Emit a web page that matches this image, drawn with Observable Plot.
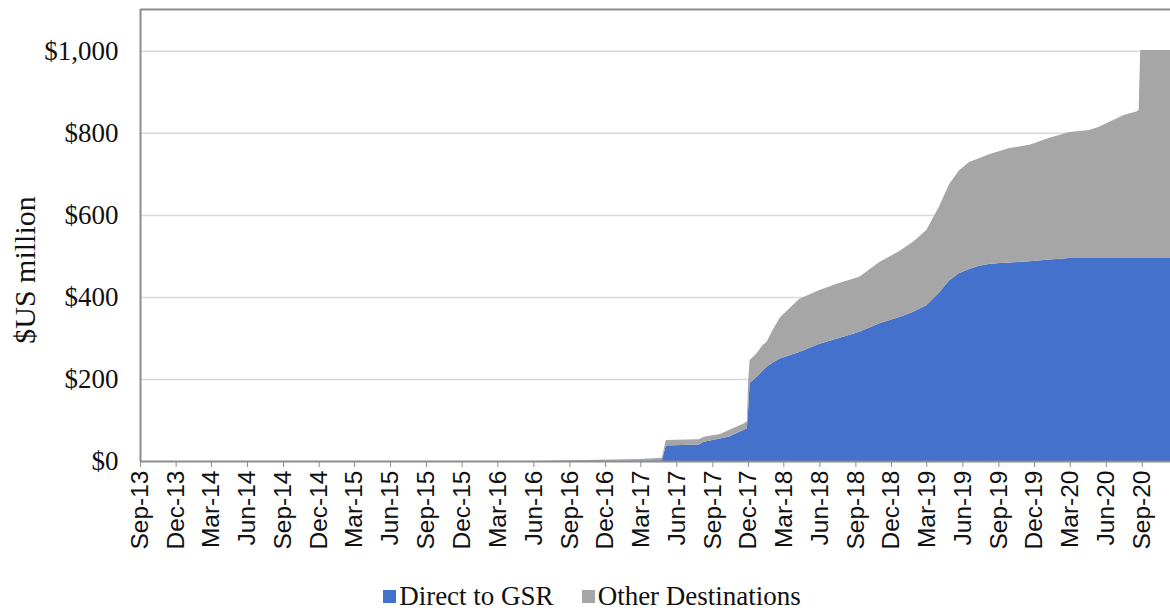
<!DOCTYPE html>
<html>
<head>
<meta charset="utf-8">
<script src="https://cdn.jsdelivr.net/npm/d3@7"></script>
<script src="https://cdn.jsdelivr.net/npm/@observablehq/plot@0.6"></script>
<style>
  html, body { margin: 0; padding: 0; background: #fff; }
  #chart { width: 1170px; height: 610px; position: relative; overflow: hidden; }
  #legend { position: absolute; left: 0; top: 581px; width: 1184px; display: flex; justify-content: center;
            font-family: "Liberation Serif", "Times New Roman", serif; font-size: 27px; color: #111; }
  .item { display: flex; align-items: center; margin: 0 14px; }
  .sw { width: 13px; height: 13px; margin-right: 3px; display: inline-block; }
</style>
</head>
<body>
<div id="chart"><div id="legend"></div></div>
<script>
// Dates of observations (cumulative $US million)
const dates = [
  "2013-09-01","2016-06-01","2016-08-01","2016-11-15","2017-02-28","2017-04-25","2017-05-05",
  "2017-07-28","2017-08-10","2017-09-20","2017-10-14","2017-11-17","2017-11-28","2017-12-01",
  "2017-12-05","2017-12-22","2018-01-07","2018-01-17","2018-02-02","2018-02-20","2018-04-10",
  "2018-06-01","2018-07-21","2018-09-11","2018-11-01","2018-12-22","2019-01-25","2019-03-01",
  "2019-04-02","2019-04-28","2019-05-23","2019-06-18","2019-07-13","2019-08-08","2019-09-04",
  "2019-09-29","2019-11-19","2020-01-09","2020-02-29","2020-04-20","2020-05-15","2020-06-10",
  "2020-07-18","2020-08-18","2020-08-24","2020-08-28","2020-11-12"
];
// Direct to GSR (cumulative)
const directGSR = [
  0,0,0,0,1,2,38,
  40,47,55,60,75,80,120,
  190,205,220,230,240,250,266,
  286,300,315,336,351,363,380,
  410,440,458,468,476,480,483,
  484,487,491,495,495,495,495,
  495,495,495,495,495
];
// Total (Direct to GSR + Other Destinations)
const total = [
  0,0,1,3,5,8,51,
  53,59,66,76,90,97,190,
  246,262,283,290,320,350,395,
  417,434,449,485,512,534,563,
  620,675,708,729,738,748,756,
  763,771,788,802,807,815,827,
  844,852,856,1002,1002
];
const seriesNames = ["Direct to GSR", "Other Destinations"];
const seriesColors = ["#4371CC", "#A6A6A6"];
const yTicks = [0, 200, 400, 600, 800, 1000];
const yLabel = "$US million";
const xTickLabels = [
  "Sep-13","Dec-13","Mar-14","Jun-14","Sep-14","Dec-14","Mar-15","Jun-15","Sep-15","Dec-15",
  "Mar-16","Jun-16","Sep-16","Dec-16","Mar-17","Jun-17","Sep-17","Dec-17","Mar-18","Jun-18",
  "Sep-18","Dec-18","Mar-19","Jun-19","Sep-19","Dec-19","Mar-20","Jun-20","Sep-20"
];
const xDomain = ["2013-09-01", "2020-11-12"];

const parse = d3.utcParse("%Y-%m-%d");
const rows = [];
dates.forEach((d, i) => {
  rows.push({date: parse(d), series: seriesNames[0], value: directGSR[i]});
  rows.push({date: parse(d), series: seriesNames[1], value: total[i] - directGSR[i]});
});
const parseTick = d3.utcParse("%b-%y");
const xTicks = xTickLabels.map(parseTick);
const yMax = 1102;

const chart = Plot.plot({
  width: 1170,
  height: 565,
  marginLeft: 140,
  marginRight: 0,
  marginTop: 9,
  marginBottom: 104,
  style: {background: "#fff", overflow: "visible"},
  x: {type: "utc", domain: xDomain.map(parse), label: null},
  y: {domain: [0, yMax], label: null},
  color: {domain: seriesNames, range: seriesColors},
  marks: [
    Plot.ruleY(yTicks.filter(d => d > 0), {stroke: "#d9d9d9", strokeWidth: 1.5}),
    Plot.areaY(rows, {x: "date", y: "value", fill: "series", order: seriesNames, curve: "linear"}),
    Plot.ruleY([yMax], {stroke: "#8c8c8c", strokeWidth: 2}),
    Plot.ruleX([parse(xDomain[0])], {stroke: "#8c8c8c", strokeWidth: 2}),
    Plot.ruleY([0], {stroke: "#8c8c8c", strokeWidth: 2}),
    Plot.axisY({ticks: yTicks, tickSize: 0, tickPadding: 22, tickFormat: d => "$" + d3.format(",")(d),
      fontSize: 27, fontFamily: "Liberation Serif, Times New Roman, serif", fill: "#111", label: null}),
    Plot.axisX({ticks: xTicks, tickSize: 6, stroke: "#8c8c8c", tickFormat: d3.utcFormat("%b-%y"),
      tickRotate: -90, tickPadding: 3, fontSize: 24.5, fontFamily: "Liberation Sans, Arial, sans-serif",
      fill: "#111", label: null})
  ]
});
chart.style.position = "absolute";
chart.style.left = "0";
chart.style.top = "0";
document.getElementById("chart").prepend(chart);

// y-axis title
d3.select(chart).append("text")
  .attr("transform", "translate(35,270) rotate(-90)")
  .attr("text-anchor", "middle")
  .attr("font-family", "Liberation Serif, Times New Roman, serif")
  .attr("font-size", 30)
  .attr("fill", "#111")
  .text(yLabel);

const legend = document.getElementById("legend");
seriesNames.forEach((n, i) => {
  const it = document.createElement("div");
  it.className = "item";
  const sw = document.createElement("span");
  sw.className = "sw";
  sw.style.background = seriesColors[i];
  it.appendChild(sw);
  it.appendChild(document.createTextNode(n));
  legend.appendChild(it);
});
</script>
</body>
</html>
